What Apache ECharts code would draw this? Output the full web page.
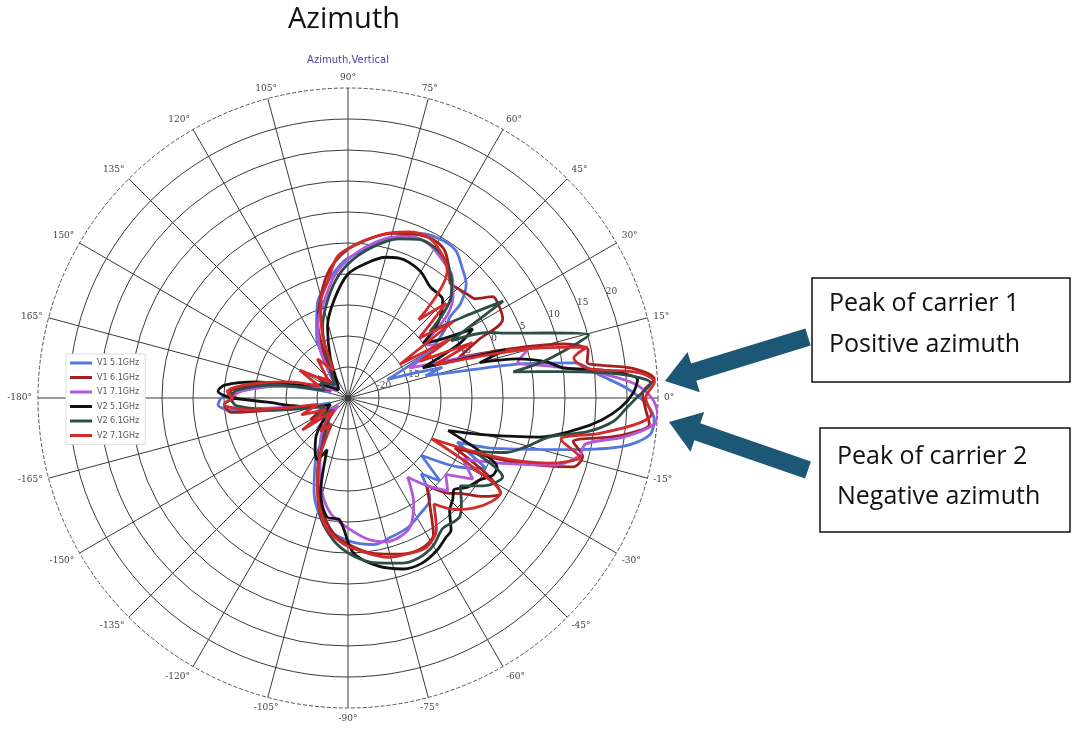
<!DOCTYPE html>
<html><head><meta charset="utf-8">
<script src="https://cdn.jsdelivr.net/npm/echarts@6/dist/echarts.min.js"></script>
<style>html,body{margin:0;padding:0;background:#fff}#c{width:1075px;height:729px}</style>
</head><body><div id="c"></div>
<script>
// ---- data: [azimuth angle (deg), gain (dB)] ----
const seriesNames = ['V1 5.1GHz','V1 6.1GHz','V1 7.1GHz','V2 5.1GHz','V2 6.1GHz','V2 7.1GHz'];
const seriesColors = ['#5577dd','#a3201f','#b159d9','#111111','#2d4d47','#d12b2b'];
const radiusTicks = {min:-25, max:25, step:5};

const V1_51 = [[-180,-4.5],[-177,-4],[-174,-6],[-171,-12],[-165,-22],[-155,-19],[-145,-22],[-135,-18],[-125,-20],[-118,-14],[-110,-9],[-100,-4],[-90,-2],[-80,-1],[-73,-1.5],[-65,-2],[-58,-3],[-51,-4],[-46,-8],[-42,-5],[-38,-10],[-32,-4],[-27,0],[-22,-6],[-19,0],[-15,7],[-13,12],[-10,20],[-7,24],[-4,24.5],[-1,23],[2,20],[5,16],[8.8,12],[11,4],[13,-5],[16,-12],[18,-9],[21,-14],[25,-18],[30,-10],[35,-6],[38.5,-4],[40,-1.3],[44,1.5],[49,3],[54,4.5],[60,4.6],[66,4],[72,2.5],[77,1],[84,-1],[92,-3],[100,-6],[108,-9],[115,-13],[119,-15],[124,-20],[135,-23],[150,-21],[162,-22],[170,-14],[176,-8],[180,-4.5]];

const V1_61 = [[-180,-7],[-177,-5],[-173,-6],[-168,-18],[-160,-21],[-150,-18],[-140,-22],[-130,-19],[-120,-16],[-112,-12],[-104,-7],[-96,-3],[-88,-1],[-80,0.5],[-72,1.5],[-64,2],[-58,1],[-53,-3],[-48,-6],[-44,-3],[-40,-1],[-36,2],[-32,4],[-29,1],[-25,-6],[-21,4],[-17,13],[-14,14],[-11,12],[-8,19],[-5,23.8],[-2,23],[1,22.5],[3.5,24.5],[6,21],[8.5,14],[11.3,14.5],[14,11],[17,2],[20,-6],[24,-2],[27,3],[31,3.5],[35,3.5],[38,1],[41,0.5],[45,0],[48.4,-0.2],[52,1.5],[57,3.5],[62,4],[68,3.5],[75,2.5],[82,1],[90,-1],[98,-4],[105,-8],[112,-12],[120,-18],[130,-22],[145,-19],[155,-22],[165,-18],[172,-10],[177,-6],[180,-7]];

const V1_71 = [[-180,-6],[-177,-5],[-174,-8],[-170,-17],[-160,-22],[-150,-20],[-140,-23],[-130,-19],[-120,-16],[-112,-13],[-105,-9],[-98,-6],[-90,-4],[-82,-2],[-75,-1],[-69.5,-1.1],[-64,-2],[-58,-5],[-53,-9],[-48,-6],[-43,-3],[-38,-5],[-33,-1],[-28,-4],[-23,2],[-18,10],[-14,13.5],[-11,14],[-8,20],[-5,24.5],[-3,25],[0,24],[3,21],[6,15],[9,8],[12,3],[15,5],[18,-2],[22,-10],[26,-14],[30,-8],[35,-10],[40,-4],[45,-1],[50,1],[56,2],[62,3],[68,3],[74,2],[80,0.5],[88,-2],[96,-5],[104,-9],[112,-12],[120,-16],[130,-21],[145,-23],[160,-20],[170,-14],[176,-8],[180,-6]];

const V2_51 = [[-180,-6],[-177,-12],[-172,-16],[-166,-19],[-160,-22],[-150,-21],[-140,-20],[-130,-17],[-122,-15],[-117,-13.9],[-112,-16],[-106,-9],[-100,-5.5],[-94,-5.3],[-88,0],[-80,2.5],[-72,4],[-66,4.2],[-60,3.5],[-55,2.5],[-52,2],[-48,-0.5],[-44,-1.5],[-41,-2.4],[-37,-1],[-32,0],[-28,1.5],[-24.8,1.5],[-22,-2],[-18,-8],[-15,-2],[-11.5,6.6],[-8,12],[-5,16],[-2,19],[1,21],[3.6,21.8],[6,17],[8,10],[10.2,7.7],[13,3],[15,-3],[17,1.5],[19,-6],[22,-12],[26,-5],[29,-2],[32,-7],[36,-10],[40,-6],[46,-3],[53.5,-2.7],[60,-1.5],[66,-1],[70,-1],[75,-1.5],[82,-3],[90,-5],[98,-9],[106,-13],[114,-18],[125,-22],[140,-23],[155,-20],[165,-17],[170,-10],[174,-5],[177,-4],[180,-6]];

const V2_61 = [[-180,-6],[-176,-7],[-170,-14],[-160,-21],[-150,-19],[-140,-22],[-130,-20],[-120,-17],[-112,-12],[-104,-6],[-96,-2],[-88,0.5],[-80,2],[-72,3],[-66,3.2],[-60,2.5],[-54,1],[-49,1.3],[-46.7,1.3],[-43,0],[-38,-2],[-33,1],[-27,3],[-23,-3],[-19,2],[-15,5],[-11,8],[-8,14],[-5,18],[-2,20],[0,21.5],[2.8,23.9],[5,19],[7,10],[9,2],[11,8],[14.7,15.1],[18,9],[22,2.9],[25,0],[29,-6],[32,4.5],[35,-2],[39,-8],[44,-2],[48,0],[54,2],[60,3],[66,3],[72,2],[78,0.5],[86,-2],[94,-5],[102,-9],[110,-13],[120,-19],[135,-22],[150,-20],[162,-21],[170,-13],[176,-7],[180,-6]];

const V2_71 = [[-180,-6.5],[-177,-5],[-173,-9],[-168,-20],[-160,-17],[-152,-21],[-145,-16],[-138,-22],[-130,-18],[-122,-20],[-115,-14],[-108,-9],[-100,-4],[-92,-1.5],[-84,0],[-76,1.5],[-68,2],[-62,2.2],[-56,0.5],[-51,-3],[-46,0],[-41,2],[-36,3.5],[-32,4],[-29,-2],[-26,-10],[-22,0],[-18,9],[-14.3,13.6],[-11,10],[-8,16],[-5,22],[-3,24],[0,23],[3,24.5],[5,22],[7,14],[10,12],[12,14.5],[15,6],[18,-4],[21,-10],[24,-3],[27,-12],[30,-6],[33,-15],[36,-4],[40,-10],[44,-3],[48,-8],[52,1],[58,3],[64,4],[70,3.5],[78,2],[86,0],[94,-2],[100,-6],[106,-9],[112,-14],[118,-20],[128,-17],[140,-21],[150,-16],[158,-20],[165,-15],[172,-9],[177,-5.5],[180,-6.5]];

const allSeriesData = [V1_51, V1_61, V1_71, V2_51, V2_61, V2_71];

// ---- chart ----
const CX = 348, CY = 398, R = 310;
const chart = echarts.init(document.getElementById('c'), null, {renderer:'canvas'});

const nRings = (radiusTicks.max - radiusTicks.min) / radiusTicks.step + 1;
const ringColors = [];
for (let i = 0; i < nRings; i++) ringColors.push(i === nRings - 1 ? 'rgba(0,0,0,0)' : '#3a3a3a');

function arrowPoints(tail, tip, sh, hh, hl) {
  const dx = tip[0]-tail[0], dy = tip[1]-tail[1];
  const L = Math.hypot(dx, dy), ux = dx/L, uy = dy/L, nx = -uy, ny = ux;
  const bx = tip[0]-ux*hl, by = tip[1]-uy*hl;
  return [
    [tail[0]+nx*sh, tail[1]+ny*sh],[bx+nx*sh, by+ny*sh],[bx+nx*hh, by+ny*hh],
    tip,[bx-nx*hh, by-ny*hh],[bx-nx*sh, by-ny*sh],[tail[0]-nx*sh, tail[1]-ny*sh]
  ];
}
const arrowColor = '#1d5776';

function txt(text, x, y, size, color, align, family) {
  return {type:'text', x:x, y:y, z:100,
    style:{text:text, fontSize:size, fontFamily:family||'Open Sans', fill:color,
      align:align||'left', verticalAlign:'middle', textAlign:align||'left', textVerticalAlign:'middle'}};
}

const option = {
  backgroundColor:'#ffffff',
  animation:false,
  polar:[
    {center:[CX, CY], radius:R},
    {center:[CX, CY], radius:R}
  ],
  angleAxis:[
    {polarIndex:0, type:'value', min:-180, max:180, interval:15, startAngle:180, clockwise:false,
     axisLine:{show:true, lineStyle:{color:'#555', type:'dashed', width:1}},
     axisTick:{show:false},
     axisLabel:{show:true, margin:6, fontSize:9, color:'#444', fontFamily:'DejaVu Serif',
       formatter:function(v){ return v === 180 ? '' : v + '°'; }},
     splitLine:{show:true, lineStyle:{color:'#3a3a3a', width:1}}},
    {polarIndex:1, type:'value', min:-180, max:180, startAngle:22.5, clockwise:false,
     axisLine:{show:false}, axisTick:{show:false}, axisLabel:{show:false}, splitLine:{show:false}}
  ],
  radiusAxis:[
    {polarIndex:0, type:'value', min:radiusTicks.min, max:radiusTicks.max, interval:radiusTicks.step,
     axisLine:{show:false}, axisTick:{show:false}, axisLabel:{show:false},
     splitLine:{show:true, lineStyle:{color:ringColors, width:1}}},
    {polarIndex:1, type:'value', min:radiusTicks.min, max:radiusTicks.max, interval:radiusTicks.step,
     axisLine:{show:false}, axisTick:{show:false}, splitLine:{show:false},
     axisLabel:{show:true, margin:0, fontSize:9, color:'#444', fontFamily:'DejaVu Serif', align:'left',
       formatter:function(v){ return (v <= -25 || v >= 25) ? '' : String(v); }}}
  ],
  legend:{
    orient:'vertical', left:66, top:354, icon:'rect', itemWidth:22, itemHeight:3,
    itemGap:4.5, padding:[4,6,4,4],
    backgroundColor:'#ffffff', borderColor:'#dddddd', borderWidth:1,
    textStyle:{fontSize:8, color:'#555', lineHeight:10, fontFamily:'DejaVu Sans'},
    data:seriesNames
  },
  series: allSeriesData.map(function(d, i){
    return {
      name:seriesNames[i], type:'line', coordinateSystem:'polar', polarIndex:0,
      showSymbol:false, smooth:0.3,
      lineStyle:{color:seriesColors[i], width:2.8},
      itemStyle:{color:seriesColors[i]},
      data:d.map(function(p){ return [p[1], p[0]]; })
    };
  }),
  graphic:[
    txt('Azimuth', 344, 20, 29, '#111', 'center'),
    txt('Azimuth,Vertical', 348, 60, 10, '#4a3fa0', 'center', 'DejaVu Sans'),
    {type:'rect', z:100, shape:{x:812, y:278, width:258, height:104}, style:{fill:'#fff', stroke:'#111', lineWidth:1.5}},
    txt('Peak of carrier 1', 829, 304, 25, '#111'),
    txt('Positive azimuth', 829, 345, 25, '#111'),
    {type:'rect', z:100, shape:{x:820, y:428, width:250, height:104}, style:{fill:'#fff', stroke:'#111', lineWidth:1.5}},
    txt('Peak of carrier 2', 837, 457, 25, '#111'),
    txt('Negative azimuth', 837, 497, 25, '#111'),
    {type:'polygon', z:100, shape:{points:arrowPoints([808,337],[665,381],9,21,30)}, style:{fill:arrowColor}},
    {type:'polygon', z:100, shape:{points:arrowPoints([808,470],[669,422],9,21,30)}, style:{fill:arrowColor}}
  ]
};
chart.setOption(option);
</script>
</body></html>
